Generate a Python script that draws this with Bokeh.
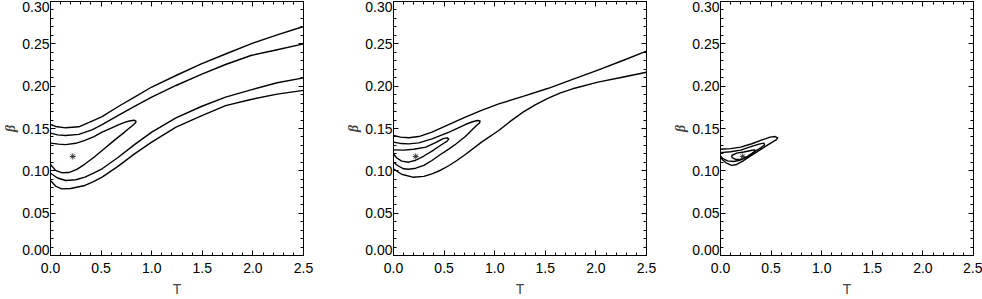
from bokeh.plotting import figure
from bokeh.layouts import row
from bokeh.models import Range1d, LinearAxis, FixedTicker, NumeralTickFormatter
from bokeh.embed import file_html
from bokeh.resources import INLINE

# ---------------- data ----------------
T_TICKS = [0.0, 0.5, 1.0, 1.5, 2.0, 2.5]
B_TICKS = [0.0, 0.05, 0.10, 0.15, 0.20, 0.25, 0.30]
star_T = [0.22]
star_beta = [0.117]

# panel 1 contours
p1_c1_T = [0.0, 0.05, 0.15, 0.28, 0.41, 0.51, 0.67, 0.83, 1.0, 1.24, 1.49, 1.73, 1.98, 2.24, 2.5]
p1_c1_B = [0.1547, 0.1524, 0.1508, 0.152, 0.1587, 0.164, 0.176, 0.187, 0.199, 0.2126, 0.2264, 0.238, 0.25, 0.2606, 0.2705]
p1_c2_T = [0.0, 0.07, 0.15, 0.28, 0.41, 0.51, 0.67, 0.83, 1.0, 1.24, 1.49, 1.73, 1.98, 2.24, 2.5]
p1_c2_B = [0.1445, 0.1425, 0.1417, 0.143, 0.1484, 0.1547, 0.1654, 0.176, 0.187, 0.2008, 0.2138, 0.2256, 0.2362, 0.243, 0.25]
p1_c3_T = [0.0, 0.08, 0.15, 0.25, 0.34, 0.43, 0.51, 0.6, 0.67, 0.74, 0.79, 0.83, 0.845, 0.84,
           0.82, 0.78, 0.72, 0.67, 0.6, 0.51, 0.43, 0.34, 0.26, 0.18, 0.11, 0.05, 0.0]
p1_c3_B = [0.1327, 0.1315, 0.131, 0.1325, 0.136, 0.1405, 0.1457, 0.1505, 0.1543, 0.1575, 0.1592, 0.1598, 0.1585, 0.1568,
           0.1545, 0.1505, 0.1445, 0.1398, 0.133, 0.124, 0.116, 0.108, 0.1018, 0.098, 0.0978, 0.1005, 0.1075]
p1_c4_T = [0.0, 0.07, 0.15, 0.25, 0.34, 0.42, 0.51, 0.67, 0.83, 1.0, 1.24, 1.49, 1.73, 1.98, 2.24, 2.5]
p1_c4_B = [0.0972, 0.0915, 0.0886, 0.0895, 0.0925, 0.097, 0.1024, 0.116, 0.131, 0.1457, 0.1626, 0.176, 0.187, 0.1957, 0.204, 0.2098]
p1_c5_T = [0.0, 0.05, 0.11, 0.2, 0.34, 0.42, 0.51, 0.67, 0.83, 1.0, 1.24, 1.49, 1.73, 1.98, 2.24, 2.5]
p1_c5_B = [0.0886, 0.082, 0.0787, 0.0792, 0.0827, 0.087, 0.0925, 0.1055, 0.12, 0.1339, 0.1516, 0.165, 0.177, 0.1843, 0.1906, 0.195]

# panel 2 contours
p2_c1_T = [0.0, 0.07, 0.15, 0.25, 0.38, 0.55, 0.71, 0.87, 1.04, 1.28, 1.53, 1.77, 2.02, 2.26, 2.5]
p2_c1_B = [0.1417, 0.1398, 0.139, 0.1405, 0.1457, 0.155, 0.1635, 0.1715, 0.179, 0.188, 0.1975, 0.208, 0.219, 0.23, 0.2413]
p2_c2_T = [0.0, 0.08, 0.15, 0.25, 0.38, 0.55, 0.71, 0.78, 0.83, 0.855, 0.85, 0.82, 0.71, 0.62, 0.55,
           0.46, 0.38, 0.3, 0.22, 0.15, 0.1, 0.04, 0.0]
p2_c2_B = [0.1339, 0.1322, 0.1319, 0.133, 0.1378, 0.1457, 0.1547, 0.158, 0.1595, 0.1588, 0.1565, 0.1535, 0.1406, 0.132, 0.126,
           0.119, 0.1122, 0.1065, 0.1031, 0.1018, 0.1024, 0.1063, 0.1102]
p2_c3_T = [0.0, 0.1, 0.2, 0.32, 0.42, 0.49, 0.53, 0.545, 0.53, 0.47, 0.38, 0.3, 0.22, 0.15, 0.08, 0.03, 0.0]
p2_c3_B = [0.1248, 0.1245, 0.1255, 0.128, 0.1335, 0.138, 0.139, 0.1375, 0.135, 0.1305, 0.1232, 0.1175, 0.1125, 0.1102, 0.1115, 0.1155, 0.12]
p2_c4_T = [0.0, 0.08, 0.19, 0.3, 0.38, 0.47, 0.55, 0.63, 0.71, 0.87, 1.04, 1.16, 1.28, 1.4, 1.53, 1.65, 1.77, 2.02, 2.26, 2.5]
p2_c4_B = [0.1024, 0.096, 0.0925, 0.0935, 0.0965, 0.101, 0.1063, 0.1125, 0.1193, 0.1339, 0.1476, 0.159, 0.1693, 0.178, 0.1858,
           0.192, 0.1969, 0.2047, 0.2106, 0.2165]

# panel 3 contours
p3_c1_T = [0.0, 0.1, 0.2, 0.31, 0.41, 0.49, 0.54, 0.565, 0.55, 0.5, 0.44, 0.36, 0.29, 0.22, 0.16, 0.11, 0.06, 0.02, 0.0]
p3_c1_B = [0.1255, 0.1262, 0.128, 0.132, 0.1365, 0.1398, 0.1405, 0.139, 0.1365, 0.133, 0.1285, 0.1225, 0.117, 0.1115, 0.1075,
           0.1065, 0.109, 0.113, 0.1165]
p3_c2_T = [0.0, 0.1, 0.2, 0.3, 0.38, 0.43, 0.435, 0.4, 0.33, 0.26, 0.19, 0.13, 0.07, 0.02, 0.0]
p3_c2_B = [0.1215, 0.1225, 0.1245, 0.1285, 0.1315, 0.1327, 0.1305, 0.1275, 0.122, 0.1165, 0.1125, 0.111, 0.1118, 0.1148, 0.1175]
p3_c3_T = [0.11, 0.16, 0.23, 0.3, 0.34, 0.335, 0.28, 0.21, 0.15, 0.115, 0.11]
p3_c3_B = [0.1181, 0.1209, 0.1222, 0.124, 0.1248, 0.1225, 0.1172, 0.1138, 0.1135, 0.1155, 0.1181]

T_RANGE = (T_TICKS[0], T_TICKS[-1])
B_RANGE = (B_TICKS[0], B_TICKS[-1])

panels = [
    [(p1_c1_T, p1_c1_B), (p1_c2_T, p1_c2_B), (p1_c3_T, p1_c3_B), (p1_c4_T, p1_c4_B), (p1_c5_T, p1_c5_B)],
    [(p2_c1_T, p2_c1_B), (p2_c2_T, p2_c2_B), (p2_c3_T, p2_c3_B), (p2_c4_T, p2_c4_B)],
    [(p3_c1_T, p3_c1_B), (p3_c2_T, p3_c2_B), (p3_c3_T, p3_c3_B)],
]

FONT = "Liberation Sans"
FSIZE = "14px"
FRAME_W, FRAME_H = 255, 254
TOP, BOTTOM = 1, 44
B_MINOR = [round(i * 0.01, 2) for i in range(31)]
T_MINOR = [round(i * 0.1, 1) for i in range(26)]

# the two end labels of the beta axis sit ~5.5 px inside the frame, as in the picture
END_SHIFT = 5.5 / FRAME_H * (B_RANGE[1] - B_RANGE[0])
B_LABEL_POS = [B_TICKS[0] + END_SHIFT] + B_TICKS[1:-1] + [B_TICKS[-1] - END_SHIFT]
B_LABEL_TXT = {pos: "%.2f" % val for pos, val in zip(B_LABEL_POS, B_TICKS)}


def style_ticks(ax):
    ax.axis_line_color = "black"
    ax.axis_line_width = 1
    ax.major_tick_in = 5
    ax.major_tick_out = 0
    ax.minor_tick_in = 3
    ax.minor_tick_out = 0
    ax.major_tick_line_color = "black"
    ax.minor_tick_line_color = "black"


def no_labels(ax):
    ax.major_label_text_font_size = "0px"
    ax.major_label_text_color = None
    ax.major_label_standoff = 0


def make_panel(contours, left, right):
    p = figure(width=left + FRAME_W + right, height=TOP + FRAME_H + BOTTOM,
               x_range=Range1d(*T_RANGE), y_range=Range1d(*B_RANGE),
               output_backend="svg", toolbar_location=None,
               min_border_left=left, min_border_right=right,
               min_border_top=TOP, min_border_bottom=BOTTOM,
               x_axis_label="T", y_axis_location=None)
    p.xgrid.visible = False
    p.ygrid.visible = False
    p.outline_line_color = "black"
    p.outline_line_width = 1
    p.background_fill_color = "white"
    p.border_fill_color = "white"

    # x axis
    xa = p.xaxis[0]
    xa.ticker = FixedTicker(ticks=T_TICKS, minor_ticks=T_MINOR)
    xa.formatter = NumeralTickFormatter(format="0.0")
    style_ticks(xa)
    xa.major_label_text_font = FONT
    xa.major_label_text_font_size = FSIZE
    xa.major_label_text_color = "black"
    xa.major_label_standoff = 7
    xa.axis_label_text_font = FONT
    xa.axis_label_text_font_size = FSIZE
    xa.axis_label_text_font_style = "normal"
    xa.axis_label_standoff = 5

    # beta axis: tick marks (zero width, next to the frame) ...
    yt = LinearAxis(ticker=FixedTicker(ticks=B_TICKS, minor_ticks=B_MINOR))
    style_ticks(yt)
    no_labels(yt)
    p.add_layout(yt, "left")
    # ... and the labels with the axis title
    yl = LinearAxis(ticker=FixedTicker(ticks=B_LABEL_POS, minor_ticks=[]), axis_label="β")
    yl.axis_line_color = None
    yl.major_tick_line_color = None
    yl.minor_tick_line_color = None
    yl.major_tick_in = 0
    yl.major_tick_out = 0
    yl.minor_tick_in = 0
    yl.minor_tick_out = 0
    yl.major_label_overrides = B_LABEL_TXT
    yl.major_label_text_font = FONT
    yl.major_label_text_font_size = FSIZE
    yl.major_label_text_color = "black"
    yl.major_label_standoff = 1
    yl.axis_label_text_font = "Liberation Serif"
    yl.axis_label_text_font_size = FSIZE
    yl.axis_label_text_font_style = "bold italic"
    yl.axis_label_standoff = 1
    p.add_layout(yl, "left")

    top = LinearAxis(ticker=FixedTicker(ticks=T_TICKS, minor_ticks=T_MINOR))
    style_ticks(top)
    no_labels(top)
    p.add_layout(top, "above")
    rgt = LinearAxis(ticker=FixedTicker(ticks=B_TICKS, minor_ticks=B_MINOR))
    style_ticks(rgt)
    no_labels(rgt)
    p.add_layout(rgt, "right")

    for ts, bs in contours:
        p.line(ts, bs, line_color="black", line_width=1.4, line_join="round")
    p.scatter(star_T, star_beta, marker="asterisk", size=6, line_color="#333333", line_width=1)
    return p


p1 = make_panel(panels[0], 48, 40)
p2 = make_panel(panels[1], 48, 24)
p3 = make_panel(panels[2], 48, 9)

layout = row(p1, p2, p3)

open("out.html", "w").write(file_html(layout, INLINE))
